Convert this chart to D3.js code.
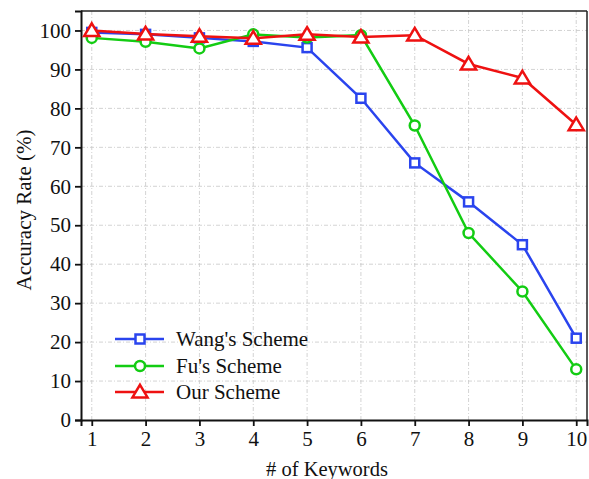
<!DOCTYPE html>
<html>
<head>
<meta charset="utf-8">
<script src="https://cdn.jsdelivr.net/npm/d3@7"></script>
<style>
  html, body { margin: 0; padding: 0; background: #fff; }
  svg { display: block; }
  text { font-family: "Liberation Serif", "Times New Roman", serif; fill: #111; }
</style>
</head>
<body>
<svg id="chart" width="589" height="479"></svg>
<script>
const keywords = [1, 2, 3, 4, 5, 6, 7, 8, 9, 10];
const wangScheme = [99.5, 99, 98.1, 97.2, 95.6, 82.6, 66, 56, 45, 21];
const fuScheme = [98.1, 97.1, 95.4, 99, 98.2, 98.8, 75.6, 48, 33, 13];
const ourScheme = [100, 99.1, 98.5, 98, 99, 98.3, 98.8, 91.4, 87.8, 75.8];
const yTicks = [0, 10, 20, 30, 40, 50, 60, 70, 80, 90, 100];
const seriesNames = ["Wang's Scheme", "Fu's Scheme", "Our Scheme"];
const seriesColors = ["#2a44ee", "#13cc13", "#ee1111"];
const seriesMarkers = ["square", "circle", "triangle"];

const svg = d3.select("#chart");
const margin = { left: 81, top: 11, right: 2, bottom: 59 };
const W = 589, H = 479;
const x = d3.scaleLinear().domain([0.8, 10.2]).range([margin.left, W - margin.right]);
const y = d3.scaleLinear().domain([0, 105]).range([H - margin.bottom, margin.top]);

// grid
const grid = svg.append("g");
grid.selectAll("line.vx").data(keywords).enter().append("line")
  .attr("x1", d => x(d)).attr("x2", d => x(d))
  .attr("y1", y(0)).attr("y2", y(105))
  .attr("stroke", "#c8c8c8").attr("stroke-width", 0.8)
  .attr("stroke-dasharray", "4,2,1,2");
grid.selectAll("line.hy").data(yTicks.filter(d => d > 0)).enter().append("line")
  .attr("x1", x(0.8)).attr("x2", x(10.2))
  .attr("y1", d => y(d)).attr("y2", d => y(d))
  .attr("stroke", "#c8c8c8").attr("stroke-width", 0.8)
  .attr("stroke-dasharray", "4,2,1,2");

// frame (top/right)
svg.append("line").attr("x1", x(0.8)).attr("x2", x(10.2)).attr("y1", y(105)).attr("y2", y(105))
  .attr("stroke", "#222").attr("stroke-width", 1.5);
svg.append("line").attr("x1", x(10.2)).attr("x2", x(10.2)).attr("y1", y(105)).attr("y2", y(0))
  .attr("stroke", "#222").attr("stroke-width", 1.5);

// axes
const xAxis = svg.append("g").attr("transform", `translate(0,${y(0)})`)
  .call(d3.axisBottom(x).tickValues(keywords).tickSize(6).tickPadding(5).tickFormat(d3.format("d")));
const yAxis = svg.append("g").attr("transform", `translate(${x(0.8)},0)`)
  .call(d3.axisLeft(y).tickValues(yTicks).tickSize(6).tickPadding(4).tickFormat(d3.format("d")));
[xAxis, yAxis].forEach(a => {
  a.attr("font-family", null).attr("font-size", null);
  a.select(".domain").attr("stroke", "#111").attr("stroke-width", 2);
  a.selectAll(".tick line").attr("stroke", "#111").attr("stroke-width", 1.8);
  a.selectAll(".tick text").style("font-size", "21px").attr("fill", "#111");
});

// labels
svg.append("text").attr("x", 327).attr("y", 476)
  .attr("text-anchor", "middle").style("font-size", "20.5px").text("# of Keywords");
svg.append("text").attr("transform", `translate(31,210) rotate(-90)`)
  .attr("text-anchor", "middle").style("font-size", "21px").text("Accuracy Rate (%)");

function drawMarker(g, type, cx, cy, color) {
  if (type === "square") {
    g.append("rect").attr("x", cx - 4.5).attr("y", cy - 4.5).attr("width", 9).attr("height", 9)
      .attr("fill", "#fff").attr("stroke", color).attr("stroke-width", 2.5);
  } else if (type === "circle") {
    g.append("circle").attr("cx", cx).attr("cy", cy).attr("r", 5)
      .attr("fill", "#fff").attr("stroke", color).attr("stroke-width", 2.5);
  } else {
    const s = 7.2;
    g.append("path")
      .attr("d", `M${cx},${cy - s}L${cx + s * 1.05},${cy + s * 0.75}L${cx - s * 1.05},${cy + s * 0.75}Z`)
      .attr("fill", "#fff").attr("stroke", color).attr("stroke-width", 2.5)
      .attr("stroke-linejoin", "miter");
  }
}

const allSeries = [wangScheme, fuScheme, ourScheme];
const line = d3.line().x((d, i) => x(keywords[i])).y(d => y(d));
allSeries.forEach((vals, si) => {
  const g = svg.append("g");
  g.append("path").datum(vals).attr("d", line).attr("fill", "none")
    .attr("stroke", seriesColors[si]).attr("stroke-width", 2.5);
  vals.forEach((v, i) => drawMarker(g, seriesMarkers[si], x(keywords[i]), y(v), seriesColors[si]));
});

// legend
const legendY = [339, 366, 392];
seriesNames.forEach((name, i) => {
  const g = svg.append("g");
  g.append("line").attr("x1", 115).attr("x2", 164).attr("y1", legendY[i]).attr("y2", legendY[i])
    .attr("stroke", seriesColors[i]).attr("stroke-width", 2.5);
  drawMarker(g, seriesMarkers[i], 140, legendY[i], seriesColors[i]);
  g.append("text").attr("x", 176).attr("y", legendY[i] + 7).style("font-size", "21px").text(name);
});
</script>
</body>
</html>
